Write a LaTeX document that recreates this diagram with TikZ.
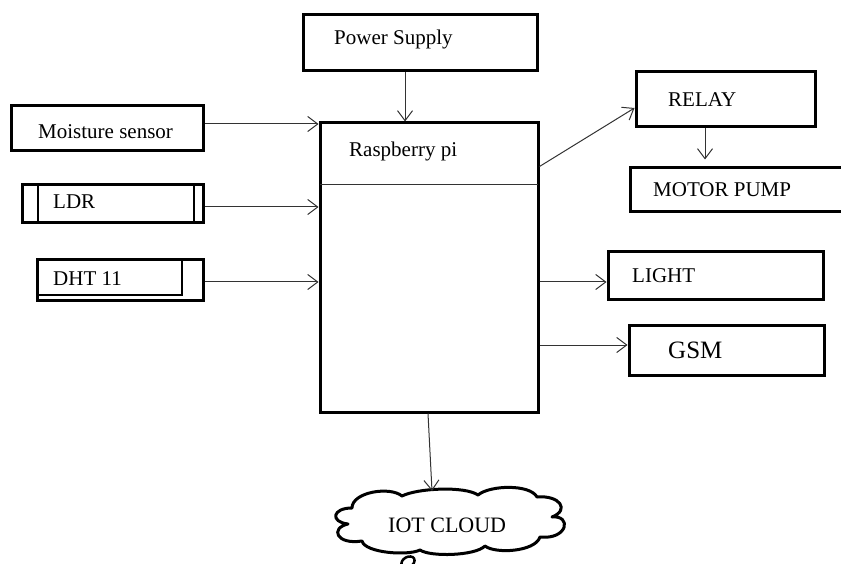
\documentclass[tikz,border=0pt]{standalone}
\usepackage{fontspec}
\setmainfont{Liberation Serif}
\usetikzlibrary{arrows.meta,calc}
\begin{document}
\begin{tikzpicture}[x=1pt,y=-1pt,
  box/.style={draw, line width=3pt, inner sep=0pt, minimum width=#1},
  lbl/.style={font=\fontsize{21}{25}\selectfont, inner sep=0pt, anchor=base west},
  arr/.style={-{Straight Barb[length=10pt,width=15pt]}, line width=1pt, draw=black!80},
  thin/.style={line width=1.5pt},
  cloudline/.style={line width=3pt, line join=round}]
\useasboundingbox (0,0) rectangle (841,564);
% boxes
\node[box=234pt, minimum height=56pt] (ps) at (420,43) {};
\node[box=218pt, minimum height=289pt] (rpi) at (429,267.5) {};
\node[box=192pt, minimum height=45pt] (ms) at (107,128.5) {};
\node[box=181pt, minimum height=38pt] (ldr) at (112.5,204) {};
\node[box=166pt, minimum height=40pt] (dht) at (120,280) {};
\node[box=179pt, minimum height=55pt] (relay) at (725.5,99.5) {};
\node[box=220pt, minimum height=44pt] (motor) at (740,190) {};
\node[box=215pt, minimum height=47pt] (light) at (715.5,275.5) {};
\node[box=195pt, minimum height=50pt] (gsm) at (726.5,350) {};
% cloud
\draw[cloudline] (348,524)
 .. controls (330,522) and (332,508) .. (352,508)
 .. controls (352,492) and (390,486) .. (402,496)
 .. controls (418,488) and (465,486) .. (478,495)
 .. controls (490,485) and (530,484) .. (537,497)
 .. controls (560,495) and (570,510) .. (552,517)
 .. controls (572,515) and (568,540) .. (540,537)
 .. controls (535,552) and (495,554) .. (485,546)
 .. controls (475,556) and (430,557) .. (420,550)
 .. controls (408,556) and (365,553) .. (362,541)
 .. controls (336,545) and (330,528) .. (348,524) -- cycle;
\coordinate (cloudtop) at (432,491);
\draw[line width=2.5pt, rotate around={30:(408,562)}] (408,562) ellipse [x radius=7, y radius=5];
% inner lines
\draw[thin] (38,185) -- (38,223);
\draw[thin] (194,185) -- (194,223);
\draw[thin] (182,260) -- (182,295) -- (37,295);
\draw[line width=1pt, draw=black!80] (320,185) -- (538,185);
% labels
\node[lbl] (tps) at (334,45) {Power Supply};
\node[lbl] (trpi) at (349,157) {Raspberry pi};
\node[lbl] (tms) at (38,139) {Moisture sensor};
\node[lbl] (tldr) at (53,209) {LDR};
\node[lbl] (tdht) at (53,285) {DHT 11};
\node[lbl] (trel) at (668,107) {RELAY};
\node[lbl] (tmot) at (653,197) {MOTOR PUMP};
\node[lbl] (tlig) at (632,283) {LIGHT};
\node[lbl, font=\fontsize{25}{29}\selectfont] (tgsm) at (668,358) {GSM};
\node[lbl, font=\fontsize{22}{26}\selectfont] (tcl) at (388,532) {IOT CLOUD};
% connectors
\draw[arr] ([xshift=-15pt]ps.south) -- ([xshift=-15pt]ps.south |- rpi.north);
\draw[arr] ([yshift=4.5pt]ms.east) -- ([yshift=4.5pt]ms.east -| rpi.west);
\draw[arr] ([yshift=-3pt]ldr.east) -- ([yshift=-3pt]ldr.east -| rpi.west);
\draw[arr] ([yshift=-2pt]dht.east) -- ([yshift=-2pt]dht.east -| rpi.west);
\draw[arr] ($(rpi.north east)+(0,45)$) -- ([yshift=-8.5pt]relay.west);
\draw[arr, shorten >=7pt] ([xshift=-20.5pt]relay.south) -- ([xshift=-20.5pt]relay.south |- motor.north);
\draw[arr] ([yshift=-6.5pt]light.west -| rpi.east) -- ([yshift=-6.5pt]light.west);
\draw[arr] ([yshift=5pt]gsm.west -| rpi.east) -- ([yshift=5pt]gsm.west);
\draw[arr] ([xshift=-1pt]rpi.south) -- (cloudtop);
\end{tikzpicture}
\end{document}
